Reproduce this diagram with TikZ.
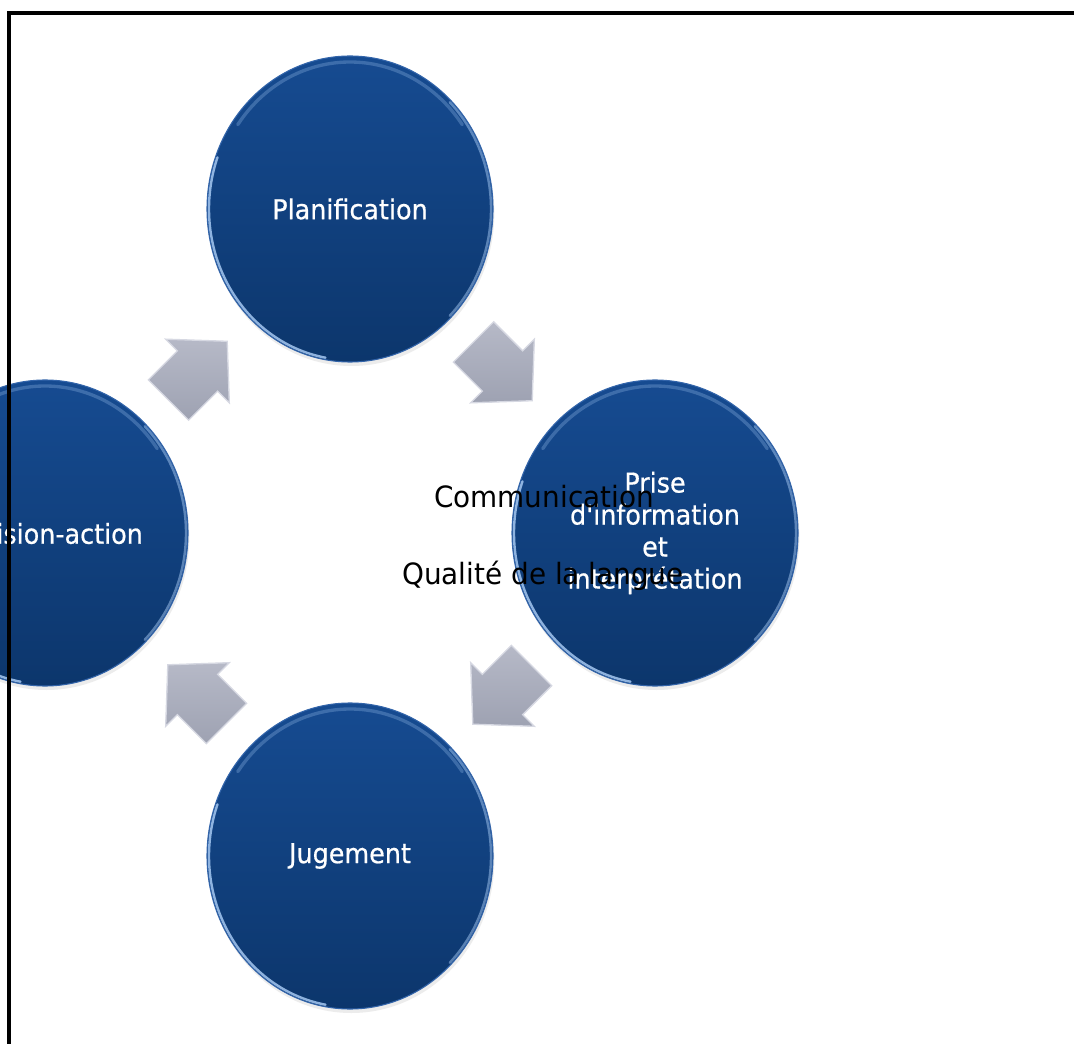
\documentclass[tikz,border=0pt]{standalone}
\usepackage{fontspec}
\setmainfont{DejaVu Sans}
\newfontfamily\circfont{DejaVu Sans}[FakeStretch=0.93,FakeBold=0.6]
\newfontfamily\midfont{DejaVu Sans}[FakeStretch=0.95]
\usetikzlibrary{shapes.geometric,shadows,calc}
\definecolor{circtop}{RGB}{22,75,145}
\definecolor{circbot}{RGB}{12,54,108}
\definecolor{rimblue}{RGB}{50,100,170}
\definecolor{rimlight}{RGB}{165,200,242}
\definecolor{arrtop}{RGB}{182,185,199}
\definecolor{arrbot}{RGB}{158,162,178}
\definecolor{arredge}{RGB}{214,216,226}
\tikzset{
  stage/.style={ellipse, minimum width=214.5pt, minimum height=229.5pt, inner sep=0pt,
    top color=circtop, bottom color=circbot, draw=rimblue, line width=0.8pt,
    text=white, align=center, font=\circfont\fontsize{20.5}{24}\selectfont,
    drop shadow={opacity=0.15, shadow xshift=1pt, shadow yshift=-3pt}},
  centertext/.style={text=black, font=\midfont\fontsize{22}{25}\selectfont, inner sep=0pt, anchor=base},
  rimhi/.style={draw=rimlight, line width=1.8pt, opacity=0.85, line cap=round},
  tophi/.style={draw=rimlight!55!circtop, line width=2.5pt, opacity=0.5, line cap=round},
  framerule/.style={draw=black, line width=3pt},
  cyclearrow/.pic={
    \path[top color=arrtop, bottom color=arrbot, draw=arredge, line width=1pt, line join=miter]
      (-41,-28.5) -- (0,-28.5) -- (0,-45) -- (42,0) -- (0,45) -- (0,28.5) -- (-41,28.5) -- cycle;
  }
}
\begin{document}
\begin{tikzpicture}[x=0.75pt,y=-0.75pt]
\useasboundingbox (0,0) rectangle (1074,1044);
\clip (0,0) rectangle (1074,1044);
\fill[white] (0,0) rectangle (1074,1044);

% stages
\node[stage] (plan) at (350,209) {Planification};
\node[stage] (prise) at (655,533) {Prise\\d'information\\et\\interprétation};
\node[stage] (jug) at (350,856) {Jugement};
\node[stage] (dec) at (45,533) {Décision-action};

% bevel highlights
\foreach \c in {plan,prise,jug,dec}{
  \begin{scope}[shift={(\c.center)}]
    \draw[rimhi] (100:141 and 151) arc (100:200:141 and 151);
    \draw[rimhi, opacity=0.5] (-45:141 and 151) arc (-45:45:141 and 151);
    \draw[tophi] (215:137 and 147) arc (215:325:137 and 147);
  \end{scope}
}

% cycle arrows
\pic[rotate=-45] (aPP) at ($(plan)!0.5!(prise)$) {cyclearrow};
\pic[rotate=-135] (aPJ) at ($(prise)!0.5!(jug)$) {cyclearrow};
\pic[rotate=135] (aJD) at ($(jug)!0.5!(dec)$) {cyclearrow};
\pic[rotate=45] (aDP) at ($(dec)!0.5!(plan)$) {cyclearrow};

% central texts
\node[centertext] (comm) at (544,508) {Communication};
\node[centertext] (qual) at (543,584) {Qualité de la langue};

% frame
\draw[framerule] (9,1050) -- (9,13) -- (1080,13);
\end{tikzpicture}
\end{document}
